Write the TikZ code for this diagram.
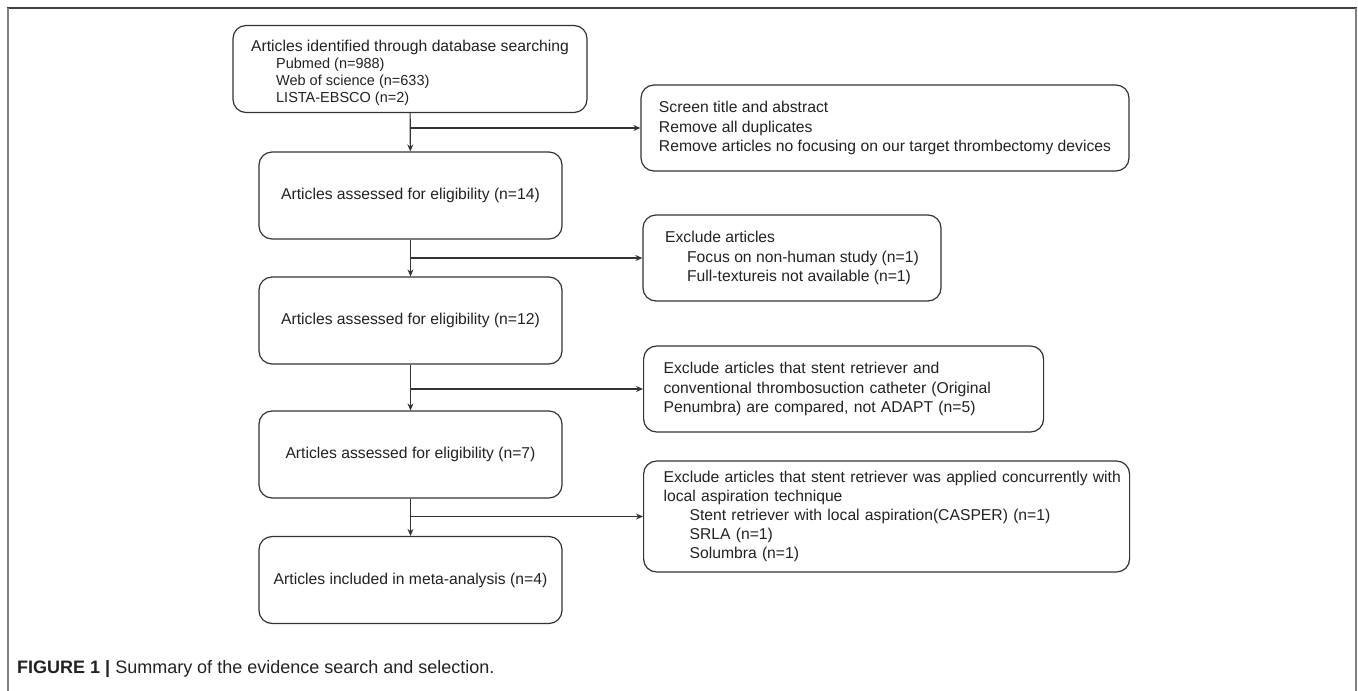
\documentclass[tikz,border=0pt]{standalone}
\usepackage{fontspec}
\setmainfont{Liberation Sans}
\usetikzlibrary{arrows.meta}

\definecolor{linegray}{HTML}{333333}
\definecolor{textgray}{HTML}{222222}
\definecolor{framegray}{HTML}{808080}
\newcommand{\subfont}{\fontsize{14.5}{17}\selectfont}

\begin{document}
\begin{tikzpicture}[x=1pt, y=-1pt,
    >={Stealth[length=7pt, width=6pt]},
    stagebox/.style={draw=linegray, line width=1.2pt, rounded corners=13pt,
      minimum width=303pt, minimum height=87pt, align=left, text=textgray,
      font=\fontsize{15.7}{17}\selectfont},
    dropbox/.style={draw=linegray, line width=1.2pt, rounded corners=13pt,
      minimum height=86pt, align=left, text=textgray,
      font=\fontsize{15.7}{19.2}\selectfont},
    flow/.style={->, line width=1.1pt, draw=linegray}]
    \useasboundingbox (0,0) rectangle (1358,691);

    % frame round the figure
    \draw[line width=1.5pt, color=black!75] (6.5,8) -- (1356.5,8);
    \draw[line width=2pt, color=framegray] (7.5,8) -- (7.5,691);
    \draw[line width=2pt, color=framegray] (1355.5,8) -- (1355.5,691);

    % main column
    \node[stagebox, minimum width=354pt] (found) at (410,69) {\rule{0pt}{18pt}Articles identified through database searching\\
      \hspace*{25pt}{\subfont Pubmed (n=988)}\\
      \hspace*{25pt}{\subfont Web of science (n=633)}\\
      \hspace*{25pt}{\subfont LISTA-EBSCO (n=2)}};
    \node[stagebox] (elig14) at (410.5,195.5) {Articles assessed for eligibility (n=14)};
    \node[stagebox] (elig12) at (410.5,320.5) {Articles assessed for eligibility (n=12)};
    \node[stagebox] (elig7) at (410.5,454.5) {Articles assessed for eligibility (n=7)};
    \node[stagebox] (incl) at (410.5,580) {Articles included in meta-analysis (n=4)};

    % exclusions on the right
    \node[dropbox, minimum width=488pt] (screen) at (885,128) {Screen title and abstract\\
      Remove all duplicates\\
      Remove articles no focusing on our target thrombectomy devices};
    \node[dropbox, minimum width=298pt] (excl1) at (792,258) {Exclude articles\\
      \hspace*{22pt}Focus on non-human study (n=1)\\
      \hspace*{22pt}Full-textureis not available (n=1)};
    \node[dropbox, anchor=west, inner xsep=20pt, text width=360pt] (excl2) at (643,389) {Exclude articles that stent retriever and\\
      conventional thrombosuction catheter (Original\\
      Penumbra) are compared, not ADAPT (n=5)};
    \node[dropbox, anchor=west, minimum height=111pt, inner xsep=20pt, text width=446pt] (excl3) at (643,516.5) {\mbox{Exclude articles that stent retriever was applied concurrently with}\\
      local aspiration technique\\
      \hspace*{26pt}Stent retriever with local aspiration(CASPER) (n=1)\\
      \hspace*{26pt}SRLA (n=1)\\
      \hspace*{26pt}Solumbra (n=1)};

    % arrows
    \draw[flow] (found) -- (elig14);
    \draw[flow] (elig14) -- (elig12);
    \draw[flow] (elig12) -- (elig7);
    \draw[flow] (elig7) -- (incl);

    \coordinate (split1) at (found.south |- screen.west);
    \coordinate (split2) at (elig14.south |- excl1.west);
    \coordinate (split3) at (elig12.south |- excl2.west);
    \coordinate (split4) at (elig7.south |- excl3.west);
    \draw[flow] (split1) -- (screen.west);
    \draw[flow] (split2) -- (excl1.west);
    \draw[flow] (split3) -- (excl2.west);
    \draw[flow] (split4) -- (excl3.west);

    % caption
    \node[anchor=base west, inner sep=0pt, text=textgray] (caption) at (17,673)
      {\fontsize{18}{20}\selectfont\textbf{FIGURE 1 |} Summary of the evidence search and selection.};
\end{tikzpicture}
\end{document}
